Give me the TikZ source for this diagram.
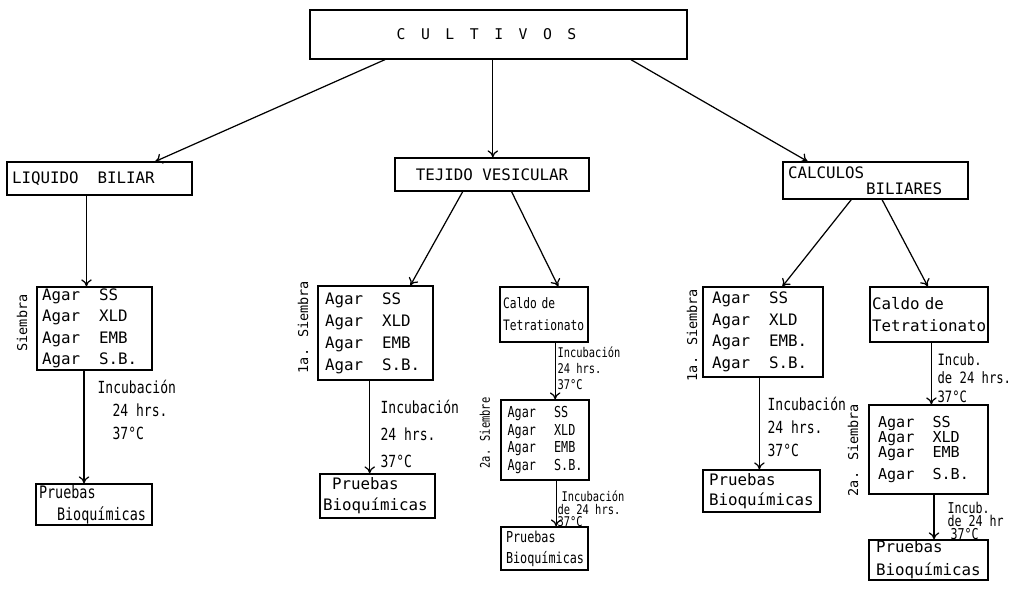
\documentclass[tikz,border=0pt]{standalone}
\usepackage{fontspec}
\newfontfamily\typer{DejaVu Sans Mono}
\newfontfamily\typen[FakeStretch=0.78]{DejaVu Sans Mono}
\usetikzlibrary{calc,arrows.meta}

\newcommand{\typesz}[2]{\typer\fontsize{#1}{#2}\selectfont\lineskiplimit=-10pt\relax}
\newcommand{\narsz}[2]{\typen\fontsize{#1}{#2}\selectfont\lineskiplimit=-10pt\relax}
\newcommand{\lsp}{\hspace{0.31cm}}
\newcommand{\gapx}{\hspace{1.2em}}

\begin{document}
\begin{tikzpicture}[x=0.02cm, y=-0.02cm, line width=0.7pt, >={To[length=4pt,width=6pt]},
    box/.style={draw, inner xsep=0.1cm, inner ysep=0pt, align=left, font=\typesz{9}{12.5}},
    note/.style={inner sep=0pt, anchor=west, align=left, font=\narsz{9.5}{13}},
    side/.style={inner sep=0pt, rotate=90, font=\typesz{7.7}{9}}]
    \useasboundingbox (0,0) rectangle (1016,601);

    % Cultivos
    \node[box, align=center, minimum width=7.54cm, minimum height=0.98cm, inner xsep=0pt, font=\typesz{8.4}{10}] (cult) at (498.5,34.5)
        {C\lsp U\lsp L\lsp T\lsp I\lsp V\lsp O\lsp S\hspace{0.48cm}};

    % second row
    \node[box, text width=3.5cm, minimum height=0.66cm] (liq) at (99.5,178.5) {LIQUIDO\gapx BILIAR};
    \node[box, align=center, text width=3.68cm, minimum height=0.66cm] (tej) at (492,174.5) {TEJIDO\hspace{0.6em}VESICULAR};
    \node[box, text width=3.5cm, minimum height=0.74cm, font=\typesz{9}{9}] (calc) at (875.5,180.5)
        {CALCULOS\\\hspace*{1.56cm}BILIARES};

    \draw[->] ($(cult.south west)!.2!(cult.south east)$) -- ($(liq.north west)!.8!(liq.north east)$);
    \draw[->] ($(cult.south west)!.485!(cult.south east)$) coordinate (k0) -- (k0 |- tej.north);
    \draw[->] ($(cult.south west)!.85!(cult.south east)$) -- ($(calc.north west)!.135!(calc.north east)$);

    % Liquido biliar
    \node[box, text width=2.1cm, minimum height=1.66cm, font=\typesz{9}{12.2}] (a1) at (94.5,328.5)
        {Agar\gapx SS\\Agar\gapx XLD\\Agar\gapx EMB\\Agar\gapx S.B.};
    \node[side] (s1) at (22,323) {Siembra};
    \node[note] (inc1) at (97,410) {Incubación\\\hspace*{0.3cm}24 hrs.\\\hspace*{0.3cm}37°C};
    \node[box, inner xsep=0.06cm, text width=2.2cm, minimum height=0.82cm, font=\narsz{9.8}{12.5}] (p1) at (94,504.5)
        {Pruebas\\\hspace*{0.36cm}Bioquímicas};
    \draw[->] ($(liq.south west)!.43!(liq.south east)$) coordinate (k1) -- (k1 |- a1.north);
    \draw[->] ($(a1.south west)!.41!(a1.south east)$) coordinate (k2) -- (k2 |- p1.north);

    % Tejido vesicular, 1a siembra
    \node[box, inner xsep=0.14cm, text width=2.02cm, minimum height=1.88cm, font=\typesz{9}{12.5}] (a2) at (375.5,333)
        {Agar\gapx SS\\Agar\gapx XLD\\Agar\gapx EMB\\Agar\gapx S.B.};
    \node[side] (s2) at (303,327) {1a. Siembra};
    \node[note, font=\narsz{9.5}{15.5}] (inc2) at (380,434) {Incubación\\24 hrs.\\37°C};
    \node[box, inner xsep=0.06cm, text width=2.18cm, minimum height=0.88cm, font=\typesz{9}{12}] (p2) at (377.5,496)
        {\hspace*{0.18cm}Pruebas\\Bioquímicas};
    \draw[->] ($(tej.south west)!.35!(tej.south east)$) -- ($(a2.north west)!.8!(a2.north east)$);
    \draw[->] ($(a2.south west)!.45!(a2.south east)$) coordinate (k3) -- (k3 |- p2.north);

    % Tejido vesicular, caldo
    \node[box, inner xsep=0.06cm, text width=1.64cm, minimum height=1.1cm, font=\narsz{8.2}{12.5}] (c3) at (544,314.5)
        {Caldo de\\Tetrationato};
    \node[note, font=\narsz{7.6}{9}] (inc3a) at (557,368) {Incubación\\24 hrs.\\37°C};
    \node[box, inner xsep=0pt, minimum width=1.76cm, minimum height=1.6cm, font=\narsz{8.6}{10}] (a3) at (545,440)
        {Agar\gapx SS\\Agar\gapx XLD\\Agar\gapx EMB\\Agar\gapx S.B.};
    \node[side, font=\narsz{7.6}{8}] (s3) at (485,433) {2a. Siembre};
    \node[note, font=\narsz{7.6}{7}] (inc3b) at (557,509) {\hspace*{0.08cm}Incubación\\de 24 hrs.\\37°C};
    \node[box, inner xsep=0.1cm, text width=1.54cm, minimum height=0.86cm, font=\narsz{8.6}{12}] (p3) at (544.5,548.5)
        {Pruebas\\Bioquímicas};
    \draw[->] ($(tej.south west)!.6!(tej.south east)$) -- ($(c3.north west)!.66!(c3.north east)$);
    \draw[->] ($(c3.south west)!.625!(c3.south east)$) coordinate (k4) -- (k4 |- a3.north);
    \draw[->] ($(a3.south west)!.625!(a3.south east)$) coordinate (k5) -- (k5 |- p3.north);

    % Calculos, 1a siembra
    \node[box, inner xsep=0.18cm, text width=2.04cm, minimum height=1.8cm, font=\typesz{9}{12.3}] (a4) at (763,332)
        {Agar\gapx SS\\Agar\gapx XLD\\Agar\gapx EMB.\\Agar\gapx S.B.};
    \node[side] (s4) at (692,335) {1a. Siembra};
    \node[note, font=\narsz{9.5}{13.3}] (inc4) at (767,427) {Incubación\\24 hrs.\\37°C};
    \node[box, inner xsep=0.12cm, text width=2.1cm, minimum height=0.84cm, font=\typesz{9}{11.4}] (p4) at (761.5,491)
        {Pruebas\\Bioquímicas};
    \draw[->] ($(calc.south west)!.37!(calc.south east)$) -- ($(a4.north west)!.66!(a4.north east)$);
    \draw[->] ($(a4.south west)!.47!(a4.south east)$) coordinate (k6) -- (k6 |- p4.north);

    % Calculos, caldo
    \node[box, inner xsep=0.04cm, text width=2.28cm, minimum height=1.1cm] (c5) at (929,314.5)
        {Caldo de\\Tetrationato};
    \node[note, font=\narsz{8.9}{10.5}] (inc5a) at (937,378) {Incub.\\de 24 hrs.\\37°C};
    \node[box, inner xsep=0.18cm, text width=2.02cm, minimum height=1.78cm, font=\typesz{8.6}{8.6}] (a5) at (928.5,449.5)
        {Agar\gapx SS\\Agar\gapx XLD\\Agar\gapx EMB\\[4pt]Agar\gapx S.B.};
    \node[side] (s5) at (853,450) {2a. Siembra};
    \node[note, font=\narsz{8.5}{7.4}] (inc5b) at (947,521) {Incub.\\de 24 hr\\\hspace*{0.06cm}37°C};
    \node[box, inner xsep=0.14cm, text width=2.1cm, minimum height=0.8cm, font=\typesz{9}{13}] (p5) at (928.5,560)
        {Pruebas\\Bioquímicas};
    \draw[->] ($(calc.south west)!.535!(calc.south east)$) -- ($(c5.north west)!.49!(c5.north east)$);
    \draw[->] ($(c5.south west)!.52!(c5.south east)$) coordinate (k7) -- (k7 |- a5.north);
    \draw[->] ($(a5.south west)!.546!(a5.south east)$) coordinate (k8) -- (k8 |- p5.north);
\end{tikzpicture}
\end{document}
